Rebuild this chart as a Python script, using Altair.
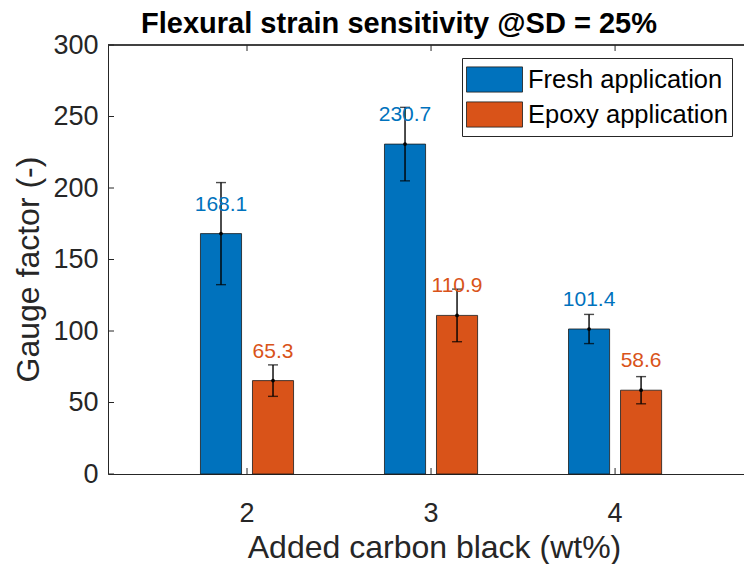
import altair as alt
import pandas as pd

# Gauge factor (mean ± error) per carbon black content and application method
carbon_black = ["2", "3", "4"]
series = ["Fresh application", "Epoxy application"]
fresh_gf = [168.1, 230.7, 101.4]
epoxy_gf = [65.3, 110.9, 58.6]
fresh_err = [35.7, 25.7, 10.2]
epoxy_err = [11.0, 18.4, 9.5]
y_ticks = [0, 50, 100, 150, 200, 250, 300]

colors = ["#0072BD", "#D95319"]
FONT = "Liberation Sans"
AXIS_COLOR = "#262626"
W, H = 636, 429

rows = []
for s, vals, errs in [(series[0], fresh_gf, fresh_err), (series[1], epoxy_gf, epoxy_err)]:
    for c, v, e in zip(carbon_black, vals, errs):
        rows.append({"cb": c, "series": s, "gf": v, "lo": v - e, "hi": v + e,
                     "label": f"{v:.1f}"})
df = pd.DataFrame(rows)
ticks_df = pd.DataFrame({"t": y_ticks})
cat_df = pd.DataFrame({"cb": carbon_black})

x_scale = alt.Scale(domain=carbon_black, paddingInner=0, paddingOuter=0.228, align=0.56)
off_scale = alt.Scale(domain=series, paddingInner=0.21, paddingOuter=0.874)
y_scale = alt.Scale(domain=[0, 300], nice=False, zero=True)
color_scale = alt.Scale(domain=series, range=colors)

x_enc = alt.X("cb:N", scale=x_scale, sort=carbon_black,
              axis=alt.Axis(title="Added carbon black (wt%)", labelAngle=0,
                            ticks=False, tickSize=0, labelPadding=26,
                            titleX=326, titleY=83, titleBaseline="alphabetic",
                            titleAnchor="middle", titleAlign="center"))
off_enc = alt.XOffset("series:N", scale=off_scale, sort=series)
y_enc = alt.Y("gf:Q", scale=y_scale,
              axis=alt.Axis(title="Gauge factor (-)", values=y_ticks, grid=False,
                            ticks=False, tickSize=0, labelPadding=10,
                            titleX=-70, titleY=224, titleBaseline="alphabetic",
                            titleAnchor="middle", titleAlign="center"))

base = alt.Chart(df)

bars = base.mark_bar(stroke="#1a1a1a", strokeWidth=0.8).encode(
    x=x_enc, xOffset=off_enc, y=y_enc,
    color=alt.Color("series:N", scale=color_scale, sort=series,
                    legend=alt.Legend(title=None, orient="none", legendX=354, legendY=13,
                                      direction="vertical")),
)

err_rule = base.mark_rule(color="black", strokeWidth=1.4).encode(
    x="cb:N", xOffset=off_enc, y="lo:Q", y2="hi:Q")
cap_lo = base.mark_tick(color="black", thickness=1.4, size=10, orient="horizontal").encode(
    x="cb:N", xOffset=off_enc, y="lo:Q")
cap_hi = base.mark_tick(color="black", thickness=1.4, size=10, orient="horizontal").encode(
    x="cb:N", xOffset=off_enc, y="hi:Q")
dots = base.mark_circle(color="black", size=14, opacity=1).encode(
    x="cb:N", xOffset=off_enc, y="gf:Q")

labels = base.mark_text(fontSize=21, font=FONT, dy=-23, baseline="alphabetic",
                        align="center").encode(
    x="cb:N", xOffset=off_enc, y="gf:Q", text="label:N",
    color=alt.Color("series:N", scale=color_scale, sort=series, legend=None))

# inward tick marks and top border (box style)
y_tick_marks = alt.Chart(ticks_df).mark_rule(color=AXIS_COLOR, strokeWidth=1).encode(
    y="t:Q", x=alt.value(0), x2=alt.value(6))
x_tick_bottom = alt.Chart(cat_df).mark_rule(color=AXIS_COLOR, strokeWidth=1).encode(
    x="cb:N", y=alt.value(H), y2=alt.value(H - 6))
x_tick_top = alt.Chart(cat_df).mark_rule(color=AXIS_COLOR, strokeWidth=1).encode(
    x="cb:N", y=alt.value(0), y2=alt.value(6))
top_border = alt.Chart(cat_df).mark_rule(color=AXIS_COLOR, strokeWidth=1).encode(
    x=alt.value(0), x2=alt.value(W), y=alt.value(0))

chart = alt.layer(
    bars, err_rule, cap_lo, cap_hi, dots, labels,
    y_tick_marks, x_tick_bottom, x_tick_top, top_border,
).properties(
    width=W, height=H,
    title=alt.TitleParams("Flexural strain sensitivity @SD = 25%", fontSize=29,
                          fontWeight="bold", font=FONT, color="black",
                          anchor="middle", dx=-27, dy=31, offset=0,
                          baseline="alphabetic"),
    autosize=alt.AutoSizeParams(type="none"),
    padding={"left": 108, "top": 45, "right": 0, "bottom": 90},
).configure_view(stroke=None).configure_axis(
    domainColor=AXIS_COLOR, domainWidth=1, labelColor=AXIS_COLOR,
    labelFont=FONT, labelFontSize=27, titleFont=FONT, titleFontSize=32,
    titleColor=AXIS_COLOR, titleFontWeight="normal",
).configure_legend(
    labelFont=FONT, labelFontSize=25.5, labelColor="black", labelOffset=5,
    symbolType="M-1,-0.45H1V0.45H-1Z", symbolSize=3136, symbolStrokeColor="#1a1a1a",
    symbolStrokeWidth=0.8, symbolOpacity=1, clipHeight=35, rowPadding=0,
    padding=4, strokeColor=AXIS_COLOR, fillColor="white", labelLimit=400,
).configure_tick(bandSize=10)

chart.save("out.html", embed_options={"renderer": "svg", "actions": False})
